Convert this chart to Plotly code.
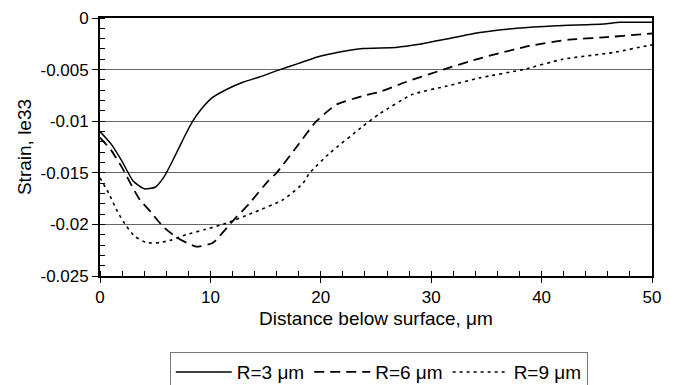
import plotly.graph_objects as go

# Strain profiles (le33) versus depth below the surface for three indenter radii
depth_r3 = [0, 1, 2, 3, 4, 5, 5.8, 6.5, 7.6, 8.4, 9.2, 10.2, 11.5, 13, 14.5, 16.3, 18,
            19.6, 21.7, 23.8, 26.8, 28.9, 31.5, 34.4, 37.7, 41.3, 45.6, 47.1, 50]
strain_r3 = [-0.0110, -0.0122, -0.0139, -0.0158, -0.01655, -0.0164, -0.0154, -0.0140,
             -0.0116, -0.0100, -0.0088, -0.0077, -0.0069, -0.0062, -0.0057, -0.0050,
             -0.0044, -0.0038, -0.0033, -0.00295, -0.00285, -0.00255, -0.0020, -0.0014,
             -0.0010, -0.00075, -0.00058, -0.00042, -0.00042]

depth_r6 = [0, 1, 2, 3, 3.6, 4.6, 5.7, 7, 8.7, 10.2, 12, 13.5, 15.3, 16, 17.8, 19.6,
            21.4, 23.8, 25.5, 27.7, 31.1, 34.1, 38.9, 42.5, 45.6, 49.3, 50]
strain_r6 = [-0.0116, -0.0128, -0.0145, -0.0165, -0.0176, -0.0188, -0.0202, -0.0213,
             -0.02215, -0.0218, -0.0197, -0.0180, -0.0157, -0.0150, -0.0125, -0.0100,
             -0.0084, -0.00756, -0.0071, -0.0062, -0.0050, -0.0040, -0.0027, -0.0021,
             -0.00188, -0.00156, -0.0015]

depth_r9 = [0, 0.8, 1.6, 2.4, 3.2, 4.2, 5.4, 6.5, 7.8, 9.5, 11.4, 13.8, 16.6, 18.4, 19.0,
            20.8, 23.8, 25.3, 28.3, 31.4, 34.4, 38.3, 41.9, 46.5, 49.5, 50]
strain_r9 = [-0.0155, -0.0170, -0.0188, -0.0202, -0.0212, -0.02177, -0.02177, -0.0215,
             -0.0210, -0.0205, -0.0199, -0.0189, -0.0176, -0.0160, -0.0150, -0.0131,
             -0.0105, -0.0093, -0.0074, -0.0066, -0.0058, -0.0050, -0.0040, -0.00334,
             -0.0027, -0.0026]

series_names = ["R=3 \u03bcm", "R=6 \u03bcm", "R=9 \u03bcm"]

y_tickvals = [0, -0.005, -0.01, -0.015, -0.02, -0.025]
y_ticktext = ["0", "-0.005", "-0.01", "-0.015", "-0.02", "-0.025"]
x_tickvals = [0, 10, 20, 30, 40, 50]

FONT = "Liberation Sans, Arial, sans-serif"

fig = go.Figure()
fig.add_trace(go.Scatter(x=depth_r3, y=strain_r3, name=series_names[0], mode="lines",
                         line=dict(color="black", width=1.5, shape="spline", smoothing=0.5)))
fig.add_trace(go.Scatter(x=depth_r6, y=strain_r6, name=series_names[1], mode="lines",
                         line=dict(color="black", width=1.8, dash="10px,6px",
                                   shape="spline", smoothing=0.5)))
fig.add_trace(go.Scatter(x=depth_r9, y=strain_r9, name=series_names[2], mode="lines",
                         line=dict(color="black", width=1.6, dash="3px,4px",
                                   shape="spline", smoothing=0.5)))

fig.update_layout(
    width=675, height=385,
    margin=dict(l=100, r=23, t=18, b=109, autoexpand=False),
    paper_bgcolor="white", plot_bgcolor="white",
    font=dict(family=FONT, size=17, color="black"),
    showlegend=True,
    legend=dict(orientation="h", x=0.505, xanchor="center", y=-0.295, yanchor="top",
                bordercolor="#777777", borderwidth=1, bgcolor="white",
                font=dict(size=19), itemwidth=56, tracegroupgap=0),
)

fig.update_xaxes(
    range=[0, 50], tickvals=x_tickvals, ticks="outside", ticklen=5, tickwidth=1.2,
    tickcolor="black", showline=True, linecolor="black", linewidth=1.8, mirror=True,
    showgrid=False, zeroline=False, tickfont=dict(size=17),
    minor=dict(ticks="inside", dtick=2, ticklen=5, tickcolor="black", tickwidth=1,
               showgrid=False),
    title=dict(text="Distance below surface, \u03bcm", font=dict(size=19), standoff=5),
)
fig.update_yaxes(
    range=[-0.025, 0], tickvals=y_tickvals, ticktext=y_ticktext, ticks="outside",
    ticklen=6, tickwidth=1.2, tickcolor="black", showline=True, linecolor="black",
    linewidth=1.8, mirror=True, showgrid=True, gridcolor="#666666", gridwidth=1,
    zeroline=False, tickfont=dict(size=17),
    minor=dict(ticks="inside", dtick=0.001, ticklen=5, tickcolor="black", tickwidth=1,
               showgrid=False),
    title=dict(text="Strain, le33", font=dict(size=19), standoff=4),
)

fig.write_html("out.html")
